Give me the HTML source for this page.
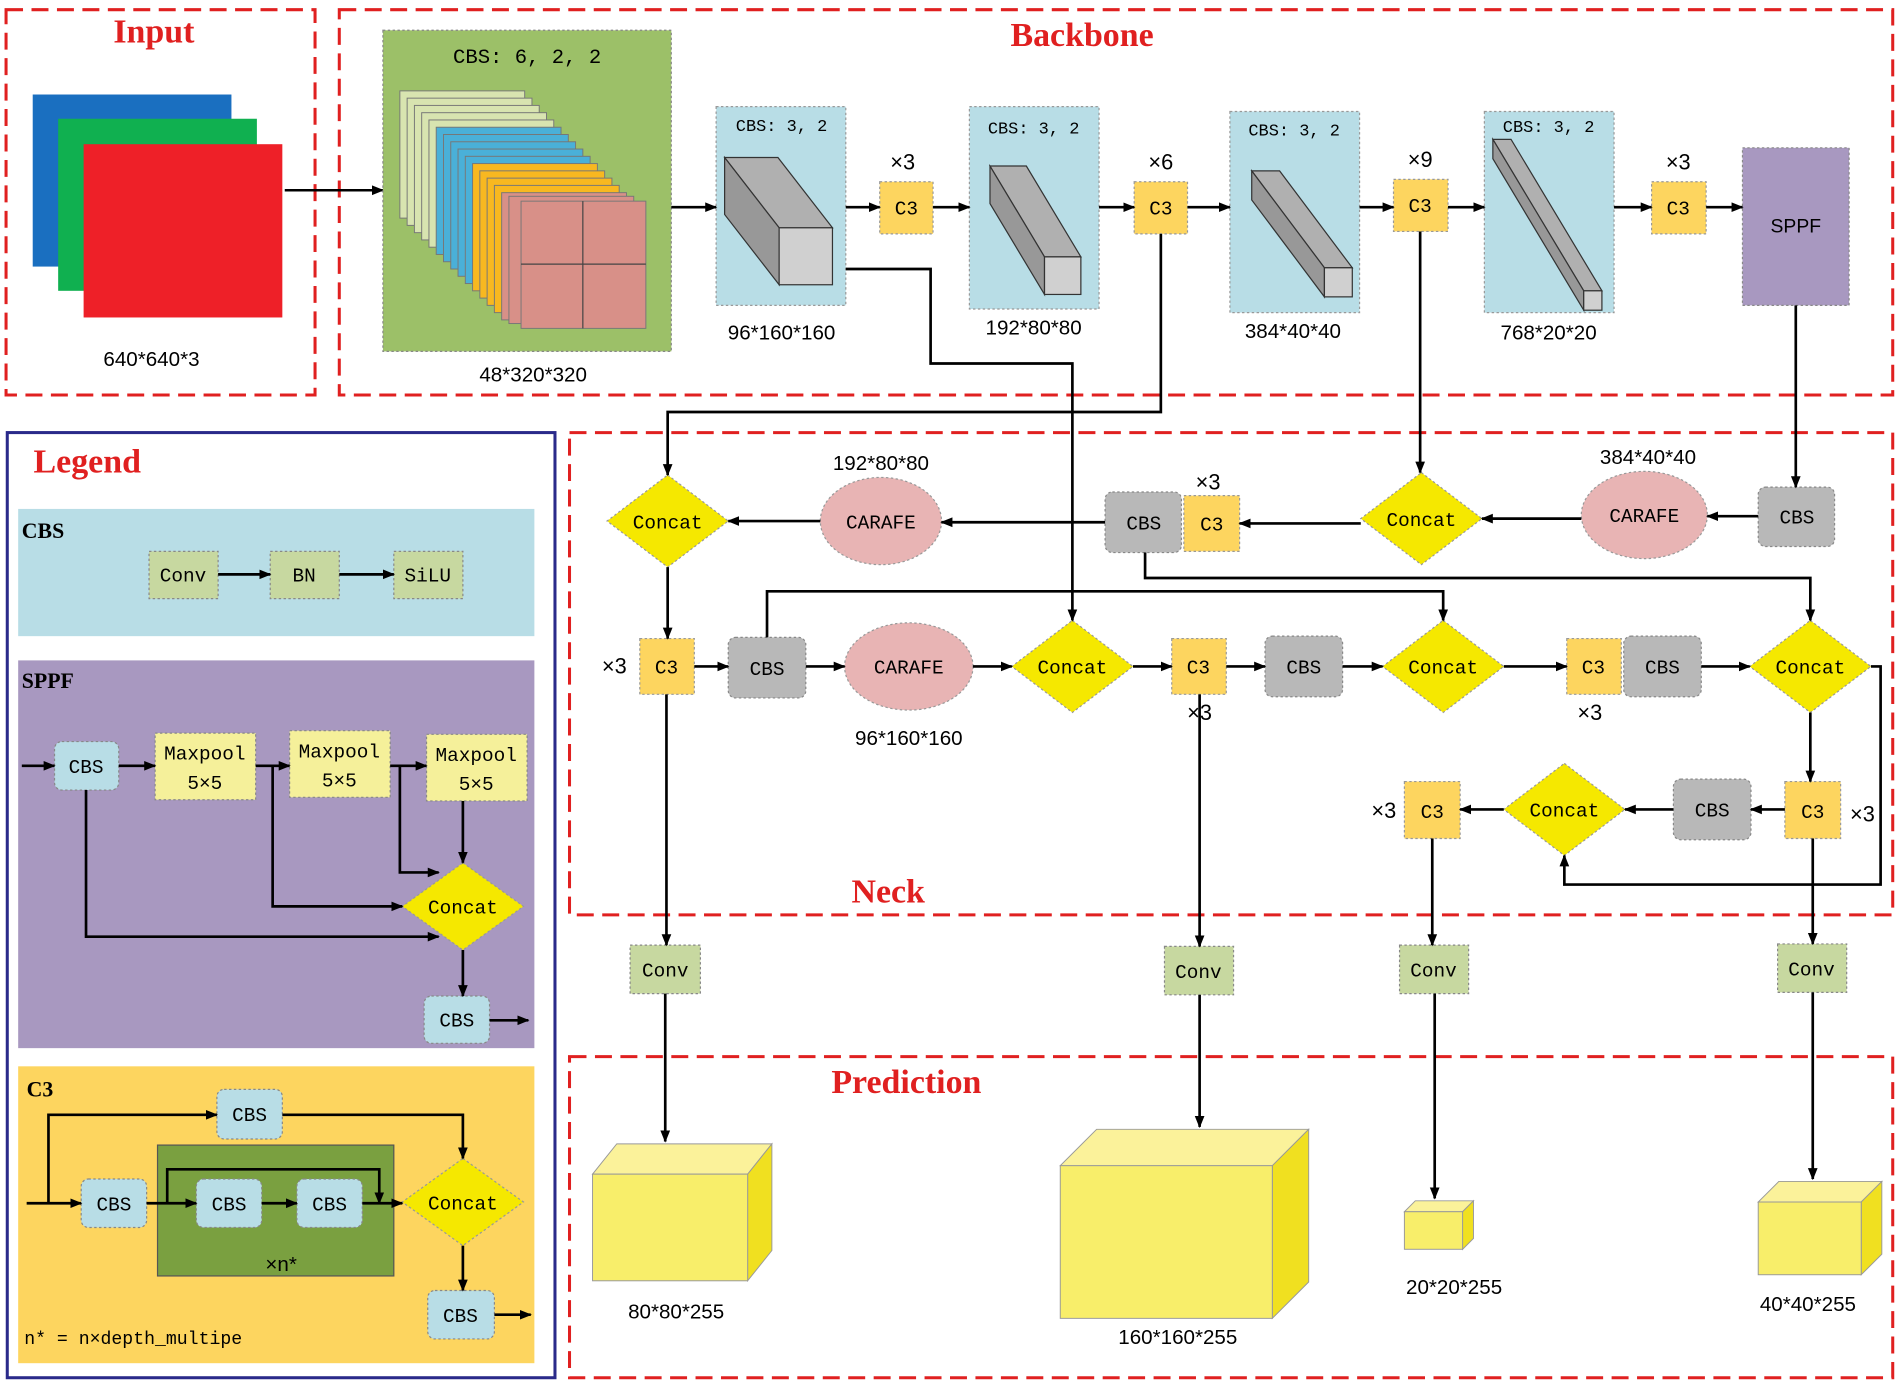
<!DOCTYPE html>
<html><head><meta charset="utf-8"><style>
html,body{margin:0;padding:0;background:#fff}
svg{display:block}
text{font-family:"Liberation Sans",sans-serif}
.m{font-family:"Liberation Mono","DejaVu Sans Mono",monospace}
.t{font-family:"Liberation Serif",serif;font-weight:bold;fill:#e02020}
</style></head><body>
<svg width="1900" height="1385" viewBox="0 0 1568 1143" preserveAspectRatio="none" xmlns="http://www.w3.org/2000/svg">
<defs>
<marker id="a" markerWidth="10" markerHeight="10" refX="9" refY="5" orient="auto" markerUnits="userSpaceOnUse"><path d="M0,1 L10,5 L0,9 z" fill="#000"/></marker>
</defs>
<g fill="none" stroke="#e02020" stroke-width="2.5" stroke-dasharray="14,7">
<rect x="5" y="8" width="255" height="318"/>
<rect x="280" y="8" width="1282" height="318"/>
<rect x="470" y="357" width="1092" height="398"/>
<rect x="470" y="872" width="1092" height="265"/>
</g>
<rect x="6" y="357" width="452" height="780" fill="none" stroke="#2a2a8a" stroke-width="2.5"/>
<text x="127" y="35" class="t" font-size="28" text-anchor="middle">Input</text>
<text x="893" y="38" class="t" font-size="28" text-anchor="middle">Backbone</text>
<text x="733" y="745" class="t" font-size="28" text-anchor="middle">Neck</text>
<text x="748" y="902" class="t" font-size="28" text-anchor="middle">Prediction</text>
<text x="72" y="390" class="t" font-size="28" text-anchor="middle">Legend</text>

<!-- input -->
<rect x="27" y="78" width="164" height="142" fill="#1a6fc0"/>
<rect x="48" y="98" width="164" height="142" fill="#10b050"/>
<rect x="69" y="119" width="164" height="143" fill="#ee2028"/>
<text x="125" y="302" font-size="17" text-anchor="middle">640*640*3</text>
<line x1="235" y1="157" x2="316" y2="157" stroke="#000" stroke-width="2" marker-end="url(#a)"/>

<!-- CBS 6,2,2 -->
<rect x="316" y="25" width="238" height="265" fill="#9cc068" stroke="#888" stroke-dasharray="2,2"/>
<text x="435" y="52" class="m" font-size="17" text-anchor="middle">CBS: 6, 2, 2</text>
<g stroke="#777" stroke-width="0.8">
<rect x="330" y="75" width="103" height="105" fill="#d8e4b0"/>
<rect x="336" y="81" width="103" height="105" fill="#d8e4b0"/>
<rect x="342" y="87" width="103" height="105" fill="#d8e4b0"/>
<rect x="348" y="93" width="103" height="105" fill="#d8e4b0"/>
<rect x="354" y="99" width="103" height="105" fill="#d8e4b0"/>
<rect x="360" y="105" width="103" height="105" fill="#4ab0d8"/>
<rect x="366" y="111" width="103" height="105" fill="#4ab0d8"/>
<rect x="372" y="117" width="103" height="105" fill="#4ab0d8"/>
<rect x="378" y="123" width="103" height="105" fill="#4ab0d8"/>
<rect x="384" y="129" width="103" height="105" fill="#4ab0d8"/>
<rect x="390" y="135" width="103" height="105" fill="#f8b820"/>
<rect x="396" y="141" width="103" height="105" fill="#f8b820"/>
<rect x="402" y="147" width="103" height="105" fill="#f8b820"/>
<rect x="408" y="153" width="103" height="105" fill="#f8b820"/>
<rect x="414" y="159" width="103" height="105" fill="#d89088"/>
<rect x="420" y="162" width="103" height="105" fill="#d89088"/>
<rect x="430" y="166" width="103" height="105" fill="#d89088"/>
</g>
<line x1="481" y1="166" x2="481" y2="271" stroke="#444"/><line x1="430" y1="218" x2="533" y2="218" stroke="#444"/>
<text x="440" y="315" font-size="17" text-anchor="middle">48*320*320</text>

<!-- backbone blue boxes -->
<g fill="#b8dde6" stroke="#999" stroke-dasharray="2,2">
<rect x="591" y="88" width="107" height="164"/><rect x="800" y="88" width="107" height="167"/>
<rect x="1015" y="92" width="107" height="166"/><rect x="1225" y="92" width="107" height="166"/>
</g>
<g class="m" font-size="14" text-anchor="middle">
<text x="645" y="108" class="m">CBS: 3, 2</text><text x="853" y="110" class="m">CBS: 3, 2</text>
<text x="1068" y="112" class="m">CBS: 3, 2</text><text x="1278" y="109" class="m">CBS: 3, 2</text>
</g>
<g stroke="#333" stroke-width="1">
<polygon points="643,188 687,188 642,130 598,130" fill="#b0b0b0"/><polygon points="643,188 643,235 598,177 598,130" fill="#989898"/><rect x="643" y="188" width="44" height="47" fill="#d0d0d0"/>
<polygon points="862,212 892,212 847,137 817,137" fill="#b0b0b0"/><polygon points="862,212 862,243 817,168 817,137" fill="#989898"/><rect x="862" y="212" width="30" height="31" fill="#d0d0d0"/>
<polygon points="1093,221 1116,221 1056,141 1033,141" fill="#b0b0b0"/><polygon points="1093,221 1093,245 1033,165 1033,141" fill="#989898"/><rect x="1093" y="221" width="23" height="24" fill="#d0d0d0"/>
<polygon points="1307,240 1322,240 1247,115 1232,115" fill="#b0b0b0"/><polygon points="1307,240 1307,256 1232,131 1232,115" fill="#989898"/><rect x="1307" y="240" width="15" height="16" fill="#d0d0d0"/>
</g>
<g font-size="17" text-anchor="middle">
<text x="645" y="280">96*160*160</text><text x="853" y="276">192*80*80</text>
<text x="1067" y="279">384*40*40</text><text x="1278" y="280">768*20*20</text>
</g>
<rect x="1438" y="122" width="88" height="130" fill="#a898c0" stroke="#888" stroke-dasharray="2,2"/>
<text x="1482" y="192" font-size="16" text-anchor="middle">SPPF</text>

<!-- C3 boxes -->
<g fill="#fdd55f" stroke="#999" stroke-dasharray="2,2">
<rect x="726" y="150" width="44" height="43"/><rect x="936" y="150" width="44" height="43"/>
<rect x="1150" y="148" width="45" height="43"/><rect x="1363" y="150" width="45" height="43"/>
<rect x="977" y="409" width="46" height="46"/>
<rect x="528" y="527" width="45" height="46"/><rect x="967" y="527" width="45" height="46"/><rect x="1293" y="527" width="45" height="46"/>
<rect x="1473" y="645" width="46" height="47"/><rect x="1159" y="645" width="46" height="47"/>
</g>
<g class="m" font-size="16" text-anchor="middle">
<text x="748" y="177" class="m">C3</text><text x="958" y="177" class="m">C3</text><text x="1172" y="175" class="m">C3</text><text x="1385" y="177" class="m">C3</text>
<text x="1000" y="438" class="m">C3</text><text x="550" y="556" class="m">C3</text><text x="989" y="556" class="m">C3</text><text x="1315" y="556" class="m">C3</text>
<text x="1496" y="675" class="m">C3</text><text x="1182" y="675" class="m">C3</text>
</g>
<g font-size="18" text-anchor="middle">
<text x="745" y="140">×3</text><text x="958" y="140">×6</text><text x="1172" y="138">×9</text><text x="1385" y="140">×3</text>
<text x="997" y="404">×3</text><text x="507" y="556">×3</text><text x="990" y="594">×3</text><text x="1312" y="594">×3</text>
<text x="1537" y="678">×3</text><text x="1142" y="675">×3</text>
</g>

<!-- gray CBS -->
<g fill="#b8b8b8" stroke="#888" stroke-dasharray="2,2">
<rect x="912" y="406" width="63" height="50" rx="6"/><rect x="1451" y="402" width="63" height="49" rx="6"/>
<rect x="601" y="526" width="64" height="50" rx="6"/><rect x="1044" y="525" width="64" height="50" rx="6"/>
<rect x="1340" y="525" width="64" height="50" rx="6"/><rect x="1381" y="643" width="64" height="50" rx="6"/>
</g>
<g class="m" font-size="16" text-anchor="middle">
<text x="944" y="437" class="m">CBS</text><text x="1483" y="432" class="m">CBS</text><text x="633" y="557" class="m">CBS</text>
<text x="1076" y="556" class="m">CBS</text><text x="1372" y="556" class="m">CBS</text><text x="1413" y="674" class="m">CBS</text>
</g>
<!-- CARAFE -->
<g fill="#e8b4b4" stroke="#999" stroke-dasharray="2,2">
<ellipse cx="727" cy="430" rx="50" ry="36"/><ellipse cx="1357" cy="425" rx="52" ry="36"/><ellipse cx="750" cy="550" rx="53" ry="36"/>
</g>
<g class="m" font-size="16" text-anchor="middle">
<text x="727" y="436" class="m">CARAFE</text><text x="1357" y="431" class="m">CARAFE</text><text x="750" y="556" class="m">CARAFE</text>
</g>
<g font-size="17" text-anchor="middle"><text x="727" y="388">192*80*80</text><text x="1360" y="383">384*40*40</text><text x="750" y="615">96*160*160</text></g>
<!-- Concat -->
<g fill="#f5e800" stroke="#999" stroke-dasharray="2,2">
<polygon points="551,392 601,430 551,468 501,430"/><polygon points="1173,390 1223,428 1173,466 1123,428"/>
<polygon points="885,512 935,550 885,588 835,550"/><polygon points="1191,512 1241,550 1191,588 1141,550"/>
<polygon points="1494,512 1544,550 1494,588 1444,550"/><polygon points="1291,630 1341,668 1291,706 1241,668"/>
</g>
<g class="m" font-size="16" text-anchor="middle">
<text x="551" y="436" class="m">Concat</text><text x="1173" y="434" class="m">Concat</text><text x="885" y="556" class="m">Concat</text>
<text x="1191" y="556" class="m">Concat</text><text x="1494" y="556" class="m">Concat</text><text x="1291" y="674" class="m">Concat</text>
</g>
<!-- Conv -->
<g fill="#c7d8a0" stroke="#888" stroke-dasharray="2,2">
<rect x="520" y="780" width="58" height="40"/><rect x="961" y="781" width="57" height="40"/>
<rect x="1155" y="780" width="57" height="40"/><rect x="1467" y="779" width="57" height="40"/>
</g>
<g class="m" font-size="16" text-anchor="middle">
<text x="549" y="806" class="m">Conv</text><text x="989" y="807" class="m">Conv</text><text x="1183" y="806" class="m">Conv</text><text x="1495" y="805" class="m">Conv</text>
</g>

<!-- connectors -->
<g fill="none" stroke="#000" stroke-width="2.2" marker-end="url(#a)">
<line x1="554" y1="171" x2="591" y2="171"/><line x1="698" y1="171" x2="726" y2="171"/><line x1="770" y1="171" x2="800" y2="171"/>
<line x1="907" y1="171" x2="936" y2="171"/><line x1="980" y1="171" x2="1015" y2="171"/><line x1="1122" y1="171" x2="1150" y2="171"/>
<line x1="1195" y1="171" x2="1225" y2="171"/><line x1="1332" y1="171" x2="1363" y2="171"/><line x1="1408" y1="171" x2="1438" y2="171"/>
<polyline points="698,222 768,222 768,300 885,300 885,512"/>
<polyline points="958,193 958,340 551,340 551,392"/>
<line x1="1172" y1="191" x2="1172" y2="390"/>
<line x1="1482" y1="252" x2="1482" y2="402"/>
<line x1="1451" y1="426" x2="1409" y2="426"/><line x1="1305" y1="428" x2="1223" y2="428"/><line x1="1123" y1="432" x2="1023" y2="432"/>
<line x1="912" y1="431" x2="777" y2="431"/><line x1="677" y1="430" x2="601" y2="430"/>
<line x1="551" y1="468" x2="551" y2="527"/>
<polyline points="945,456 945,477 1494,477 1494,512"/>
<polyline points="633,526 633,488 1191,488 1191,512"/>
<line x1="573" y1="550" x2="601" y2="550"/><line x1="665" y1="550" x2="697" y2="550"/><line x1="803" y1="550" x2="835" y2="550"/>
<line x1="935" y1="550" x2="967" y2="550"/><line x1="1012" y1="550" x2="1044" y2="550"/><line x1="1108" y1="550" x2="1141" y2="550"/>
<line x1="1241" y1="550" x2="1293" y2="550"/><line x1="1404" y1="550" x2="1444" y2="550"/>
<line x1="1494" y1="588" x2="1494" y2="645"/>
<polyline points="1544,550 1552,550 1552,730 1291,730 1291,706"/>
<line x1="1473" y1="668" x2="1445" y2="668"/><line x1="1381" y1="668" x2="1341" y2="668"/><line x1="1241" y1="668" x2="1205" y2="668"/>
<line x1="1496" y1="692" x2="1496" y2="779"/><line x1="1182" y1="692" x2="1182" y2="780"/><line x1="990" y1="573" x2="990" y2="781"/><line x1="550" y1="573" x2="550" y2="780"/>
<line x1="549" y1="820" x2="549" y2="942"/><line x1="990" y1="821" x2="990" y2="930"/><line x1="1184" y1="820" x2="1184" y2="989"/><line x1="1496" y1="819" x2="1496" y2="973"/>
</g>

<!-- cubes -->
<g stroke="#999" stroke-width="0.8">
<polygon points="489,969 617,969 637,944 509,944" fill="#fbf29a"/><polygon points="617,969 637,944 637,1032 617,1057" fill="#f0e020"/><rect x="489" y="969" width="128" height="88" fill="#f8ee6a"/>
<polygon points="875,962 1050,962 1080,932 905,932" fill="#fbf29a"/><polygon points="1050,962 1080,932 1080,1058 1050,1088" fill="#f0e020"/><rect x="875" y="962" width="175" height="126" fill="#f8ee6a"/>
<polygon points="1159,1000 1207,1000 1216,991 1168,991" fill="#fbf29a"/><polygon points="1207,1000 1216,991 1216,1022 1207,1031" fill="#f0e020"/><rect x="1159" y="1000" width="48" height="31" fill="#f8ee6a"/>
<polygon points="1451,992 1536,992 1553,975 1468,975" fill="#fbf29a"/><polygon points="1536,992 1553,975 1553,1035 1536,1052" fill="#f0e020"/><rect x="1451" y="992" width="85" height="60" fill="#f8ee6a"/>
</g>
<g font-size="17" text-anchor="middle"><text x="558" y="1088">80*80*255</text><text x="972" y="1109">160*160*255</text><text x="1200" y="1068">20*20*255</text><text x="1492" y="1082">40*40*255</text></g>

<!-- legend CBS -->
<rect x="15" y="420" width="426" height="105" fill="#b8dde6"/>
<text x="18" y="444" class="t" font-size="18" style="fill:#000">CBS</text>
<g fill="#c7d8a0" stroke="#888" stroke-dasharray="2,2"><rect x="123" y="455" width="57" height="39"/><rect x="223" y="455" width="57" height="39"/><rect x="325" y="455" width="57" height="39"/></g>
<g class="m" font-size="16" text-anchor="middle"><text x="151" y="480" class="m">Conv</text><text x="251" y="480" class="m">BN</text><text x="353" y="480" class="m">SiLU</text></g>
<!-- legend SPPF -->
<rect x="15" y="545" width="426" height="320" fill="#a898c0"/>
<text x="18" y="568" class="t" font-size="18" style="fill:#000">SPPF</text>
<g fill="#f5f09a" stroke="#888" stroke-dasharray="2,2"><rect x="128" y="605" width="83" height="55"/><rect x="239" y="603" width="83" height="55"/><rect x="352" y="606" width="83" height="55"/></g>
<g class="m" font-size="16" text-anchor="middle">
<text x="169" y="627" class="m">Maxpool</text><text x="169" y="651" class="m">5×5</text>
<text x="280" y="625" class="m">Maxpool</text><text x="280" y="649" class="m">5×5</text>
<text x="393" y="628" class="m">Maxpool</text><text x="393" y="652" class="m">5×5</text>
</g>
<!-- legend C3 -->
<rect x="15" y="880" width="426" height="245" fill="#fdd55f"/>
<text x="22" y="905" class="t" font-size="18" style="fill:#000">C3</text>
<rect x="130" y="945" width="195" height="108" fill="#7aa040" stroke="#555"/>
<text x="232" y="1049" font-size="17" text-anchor="middle">×n*</text>
<text x="20" y="1109" class="m" font-size="15">n* = n×depth_multipe</text>
<g fill="#b8dde6" stroke="#888" stroke-dasharray="2,2">
<rect x="45" y="612" width="53" height="40" rx="6"/><rect x="350" y="822" width="54" height="39" rx="6"/>
<rect x="179" y="899" width="54" height="41" rx="6"/><rect x="67" y="973" width="54" height="40" rx="6"/><rect x="162" y="973" width="54" height="40" rx="6"/>
<rect x="245" y="973" width="54" height="40" rx="6"/><rect x="353" y="1065" width="55" height="40" rx="6"/>
</g>
<g class="m" font-size="16" text-anchor="middle">
<text x="71" y="638" class="m">CBS</text><text x="377" y="847" class="m">CBS</text><text x="206" y="925" class="m">CBS</text>
<text x="94" y="999" class="m">CBS</text><text x="189" y="999" class="m">CBS</text><text x="272" y="999" class="m">CBS</text><text x="380" y="1091" class="m">CBS</text>
</g>
<g fill="#f5e800" stroke="#999" stroke-dasharray="2,2"><polygon points="382,712 432,748 382,784 332,748"/><polygon points="382,956 432,992 382,1028 332,992"/></g>
<g class="m" font-size="16" text-anchor="middle"><text x="382" y="754" class="m">Concat</text><text x="382" y="998" class="m">Concat</text></g>
<g fill="none" stroke="#000" stroke-width="2.2" marker-end="url(#a)">
<line x1="180" y1="474" x2="223" y2="474"/><line x1="280" y1="474" x2="325" y2="474"/>
<line x1="18" y1="632" x2="45" y2="632"/><line x1="98" y1="632" x2="128" y2="632"/><line x1="211" y1="632" x2="239" y2="632"/><line x1="322" y1="632" x2="352" y2="632"/>
<line x1="382" y1="661" x2="382" y2="712"/>
<polyline points="330,632 330,720 362,720"/>
<polyline points="225,632 225,748 332,748"/>
<polyline points="71,652 71,773 362,773"/>
<line x1="382" y1="784" x2="382" y2="822"/><line x1="404" y1="842" x2="436" y2="842"/>
<line x1="22" y1="993" x2="67" y2="993"/>
<polyline points="40,993 40,920 179,920"/>
<polyline points="233,920 382,920 382,956"/>
<line x1="121" y1="993" x2="162" y2="993"/><line x1="216" y1="993" x2="245" y2="993"/>
<polyline points="138,993 138,965 313,965 313,993"/>
<line x1="299" y1="993" x2="332" y2="993"/>
<line x1="382" y1="1028" x2="382" y2="1065"/><line x1="408" y1="1085" x2="438" y2="1085"/>
</g>
</svg>
</body></html>
